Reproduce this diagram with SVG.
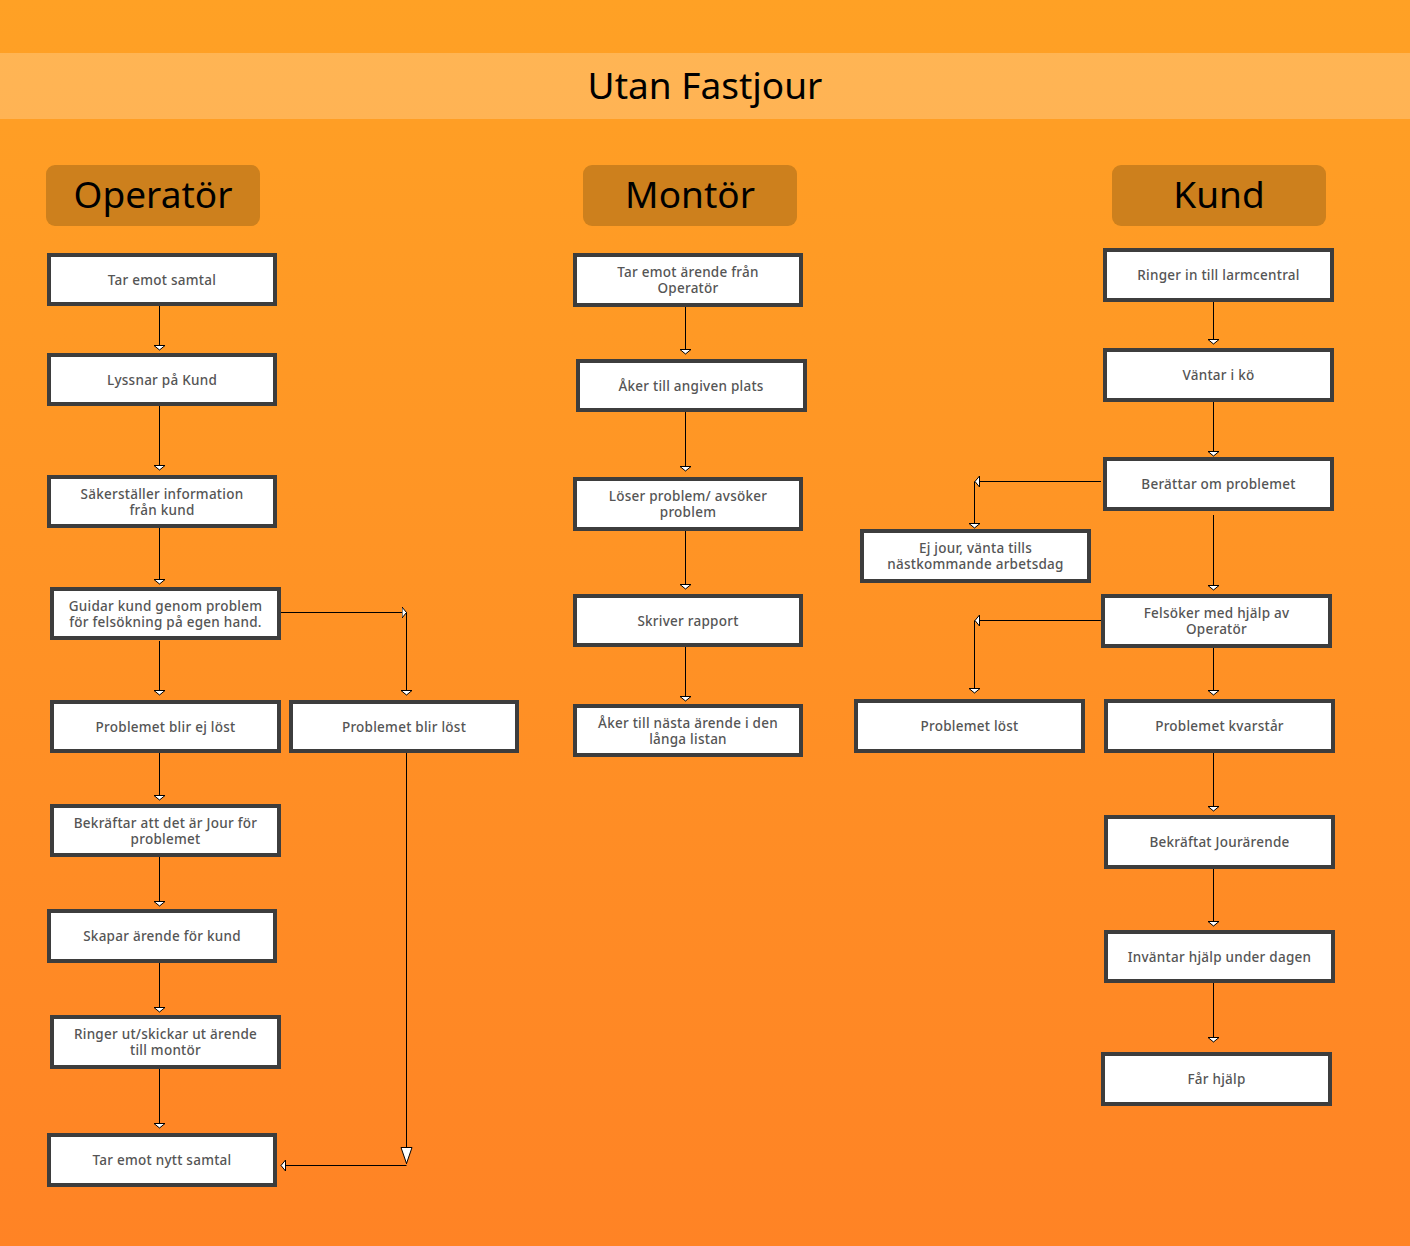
<svg xmlns="http://www.w3.org/2000/svg" width="1410" height="1246" viewBox="0 0 1410 1246">
<defs>
<linearGradient id="bg" x1="0" y1="0" x2="0" y2="1">
<stop offset="0" stop-color="#FFA125"/>
<stop offset="1" stop-color="#FF8325"/>
</linearGradient>
<marker id="sa" viewBox="0 -7 6 14" refX="5" refY="0" markerWidth="6" markerHeight="14" markerUnits="userSpaceOnUse" orient="auto">
<path d="M0.5,-5.5 L5,0 L0.5,5.5 Z" fill="#fff" stroke="#000" stroke-width="1"/>
</marker>
<marker id="la" viewBox="0 -7 18 14" refX="17" refY="0" markerWidth="18" markerHeight="14" markerUnits="userSpaceOnUse" orient="auto">
<path d="M0.5,-5.5 L16.5,0 L0.5,5.5 Z" fill="#fff" stroke="#000" stroke-width="1"/>
</marker>
</defs>
<style>
.box{fill:#fff;stroke:#3d3d3d;stroke-width:4}
.hdr{fill:#CD801D}
.t{font-family:"Noto Sans","Open Sans","DejaVu Sans",sans-serif;font-size:13.5px;letter-spacing:0.25px;font-weight:500;fill:#555;text-anchor:middle}
.h{font-family:"Noto Sans","Open Sans","DejaVu Sans",sans-serif;font-size:37px;fill:#000;text-anchor:middle}
.c{fill:none;stroke:#000;stroke-width:1;marker-end:url(#sa)}
.cl{fill:none;stroke:#000;stroke-width:1;marker-end:url(#la)}
</style>
<rect x="0" y="0" width="1410" height="1246" fill="url(#bg)"/>
<rect x="0" y="53" width="1410" height="66" fill="#fff" fill-opacity="0.22"/>
<text class="h" x="705" y="99">Utan Fastjour</text>

<g id="hdr-operator"><rect class="hdr" x="46" y="165" width="214" height="61" rx="9"/><text class="h" x="153" y="208">Operatör</text></g>
<g id="hdr-montor"><rect class="hdr" x="583" y="165" width="214" height="61" rx="9"/><text class="h" x="690" y="208">Montör</text></g>
<g id="hdr-kund"><rect class="hdr" x="1112" y="165" width="214" height="61" rx="9"/><text class="h" x="1219" y="208">Kund</text></g>

<g id="connectors">
<path class="c" d="M159.5,306 V350"/>
<path class="c" d="M159.5,406 V470"/>
<path class="c" d="M159.5,528 V584"/>
<path class="c" d="M159.5,641 V695"/>
<path class="c" d="M281,612.5 H406.5"/>
<path class="c" d="M406.5,612.5 V695"/>
<path class="c" d="M159.5,753 V800"/>
<path class="c" d="M159.5,857 V906"/>
<path class="c" d="M159.5,963 V1012"/>
<path class="c" d="M159.5,1069 V1128"/>
<path class="cl" d="M406.5,753 V1164"/>
<path class="c" d="M406.5,1165.5 H281"/>
<path class="c" d="M685.5,307 V354"/>
<path class="c" d="M685.5,412 V471"/>
<path class="c" d="M685.5,531 V589"/>
<path class="c" d="M685.5,647 V701"/>
<path class="c" d="M1213.5,302 V344"/>
<path class="c" d="M1213.5,402 V456"/>
<path class="c" d="M1213.5,515 V590"/>
<path class="c" d="M1213.5,648 V695"/>
<path class="c" d="M1213.5,753 V811"/>
<path class="c" d="M1213.5,869 V926"/>
<path class="c" d="M1213.5,983 V1042"/>
<path class="c" d="M1101,481.5 H975"/>
<path class="c" d="M974.5,481.5 V528"/>
<path class="c" d="M1101,620.5 H975"/>
<path class="c" d="M974.5,620.5 V693"/>
</g>

<g id="op1"><rect class="box" x="49" y="255" width="226" height="49"/><text class="t" x="162" y="284.5">Tar emot samtal</text></g>
<g id="op2"><rect class="box" x="49" y="355" width="226" height="49"/><text class="t" x="162" y="384.5">Lyssnar på Kund</text></g>
<g id="op3"><rect class="box" x="49" y="477" width="226" height="49"/><text class="t" x="162" y="498.5">Säkerställer information</text><text class="t" x="162" y="514.5">från kund</text></g>
<g id="op4"><rect class="box" x="52" y="589" width="227" height="49"/><text class="t" x="165.5" y="611">Guidar kund genom problem</text><text class="t" x="165.5" y="627">för felsökning på egen hand.</text></g>
<g id="op5"><rect class="box" x="52" y="702" width="227" height="49"/><text class="t" x="165.5" y="731.5">Problemet blir ej löst</text></g>
<g id="op6"><rect class="box" x="291" y="702" width="226" height="49"/><text class="t" x="404" y="731.5">Problemet blir löst</text></g>
<g id="op7"><rect class="box" x="52" y="806" width="227" height="49"/><text class="t" x="165.5" y="827.5">Bekräftar att det är Jour för</text><text class="t" x="165.5" y="843.5">problemet</text></g>
<g id="op8"><rect class="box" x="49" y="911" width="226" height="50"/><text class="t" x="162" y="940.5">Skapar ärende för kund</text></g>
<g id="op9"><rect class="box" x="52" y="1017" width="227" height="50"/><text class="t" x="165.5" y="1038.5">Ringer ut/skickar ut ärende</text><text class="t" x="165.5" y="1054.5">till montör</text></g>
<g id="op10"><rect class="box" x="49" y="1135" width="226" height="50"/><text class="t" x="162" y="1164.5">Tar emot nytt samtal</text></g>

<g id="mo1"><rect class="box" x="575" y="255" width="226" height="50"/><text class="t" x="688" y="276.5">Tar emot ärende från</text><text class="t" x="688" y="292.5">Operatör</text></g>
<g id="mo2"><rect class="box" x="578" y="361" width="227" height="49"/><text class="t" x="691" y="390.5">Åker till angiven plats</text></g>
<g id="mo3"><rect class="box" x="575" y="479" width="226" height="50"/><text class="t" x="688" y="500.5">Löser problem/ avsöker</text><text class="t" x="688" y="516.5">problem</text></g>
<g id="mo4"><rect class="box" x="575" y="596" width="226" height="49"/><text class="t" x="688" y="625.5">Skriver rapport</text></g>
<g id="mo5"><rect class="box" x="575" y="706" width="226" height="49"/><text class="t" x="688" y="727.5">Åker till nästa ärende i den</text><text class="t" x="688" y="743.5">långa listan</text></g>

<g id="ku1"><rect class="box" x="1105" y="250" width="227" height="50"/><text class="t" x="1218.5" y="279.5">Ringer in till larmcentral</text></g>
<g id="ku2"><rect class="box" x="1105" y="350" width="227" height="50"/><text class="t" x="1218.5" y="379.5">Väntar i kö</text></g>
<g id="ku3"><rect class="box" x="1105" y="459" width="227" height="50"/><text class="t" x="1218.5" y="488.5">Berättar om problemet</text></g>
<g id="ku4"><rect class="box" x="862" y="531" width="227" height="50"/><text class="t" x="975.5" y="552.5">Ej jour, vänta tills</text><text class="t" x="975.5" y="568.5">nästkommande arbetsdag</text></g>
<g id="ku5"><rect class="box" x="1103" y="596" width="227" height="50"/><text class="t" x="1216.5" y="617.5">Felsöker med hjälp av</text><text class="t" x="1216.5" y="633.5">Operatör</text></g>
<g id="ku6"><rect class="box" x="856" y="701" width="227" height="50"/><text class="t" x="969.5" y="730.5">Problemet löst</text></g>
<g id="ku7"><rect class="box" x="1106" y="701" width="227" height="50"/><text class="t" x="1219.5" y="730.5">Problemet kvarstår</text></g>
<g id="ku8"><rect class="box" x="1106" y="817" width="227" height="50"/><text class="t" x="1219.5" y="846.5">Bekräftat Jourärende</text></g>
<g id="ku9"><rect class="box" x="1106" y="932" width="227" height="49"/><text class="t" x="1219.5" y="961.5">Inväntar hjälp under dagen</text></g>
<g id="ku10"><rect class="box" x="1103" y="1054" width="227" height="50"/><text class="t" x="1216.5" y="1083.5">Får hjälp</text></g>
</svg>
